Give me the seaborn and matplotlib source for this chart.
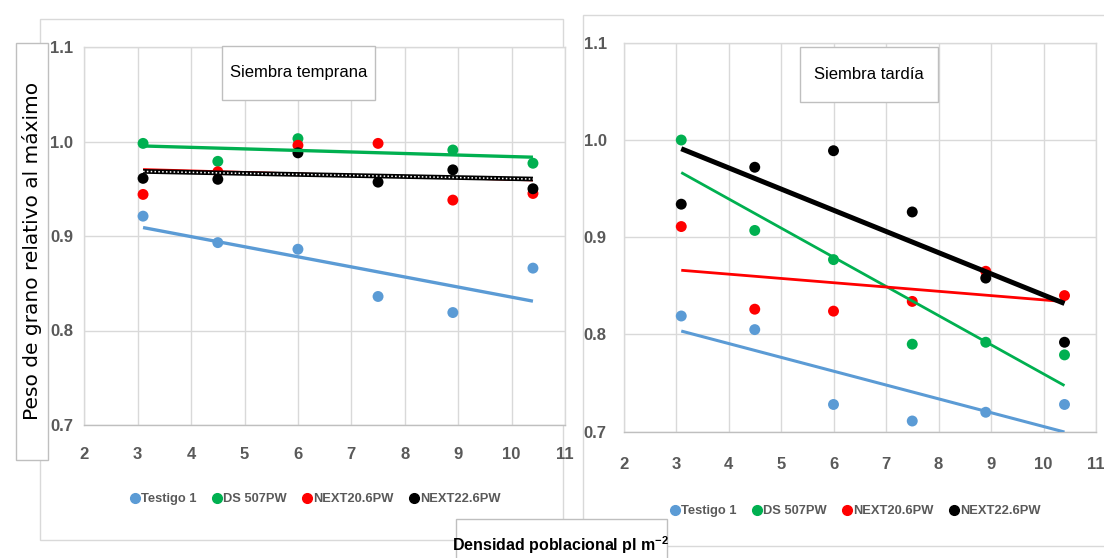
import numpy as np
import pandas as pd
import matplotlib
matplotlib.use('Agg')
import matplotlib.pyplot as plt
import seaborn as sns
from matplotlib import font_manager
from matplotlib.patches import Rectangle
from matplotlib.lines import Line2D

# Datos
densidad = [3.1, 4.5, 6.0, 7.5, 8.9, 10.4]
hibridos = ['Testigo 1', 'DS 507PW', 'NEXT20.6PW', 'NEXT22.6PW']
colores = ['#5B9BD5', '#00B050', '#FF0000', '#000000']

# Siembra temprana
temp_testigo = [0.921, 0.893, 0.886, 0.836, 0.819, 0.866]
temp_ds507 = [0.998, 0.979, 1.003, np.nan, 0.991, 0.977]
temp_next20 = [0.944, 0.968, 0.996, 0.998, 0.938, 0.945]
temp_next22 = [0.961, 0.960, 0.988, 0.957, 0.970, 0.950]

# Siembra tardia
tard_testigo = [0.819, 0.805, 0.728, 0.711, 0.720, 0.728]
tard_ds507 = [1.000, 0.907, 0.877, 0.790, 0.792, 0.779]
tard_next20 = [0.911, 0.826, 0.824, 0.834, 0.865, 0.840]
tard_next22 = [0.934, 0.972, 0.989, 0.926, 0.858, 0.792]

y_ticks = [0.7, 0.8, 0.9, 1.0, 1.1]
y_labels = ['0.7', '0.8', '0.9', '1.0', '1.1']
x_ticks = list(range(2, 12))

sns.set_style('white')
nombres = {f.name for f in font_manager.fontManager.ttflist}
angosta = 'Liberation Sans Narrow' if 'Liberation Sans Narrow' in nombres else 'Liberation Sans'
plt.rcParams['font.family'] = [angosta, 'DejaVu Sans']
plt.rcParams['mathtext.fontset'] = 'custom'
plt.rcParams['mathtext.rm'] = angosta + ':bold'
plt.rcParams['mathtext.bf'] = angosta + ':bold'

GRIS = '#595959'
W, H = 1104, 558


def a_largo(series):
    filas = []
    for h, vals in zip(hibridos, series):
        for x, y in zip(densidad, vals):
            filas.append({'densidad': x, 'peso': y, 'hibrido': h})
    return pd.DataFrame(filas)


def caja(fig, x0, y0, x1, y1, ec, z):
    r = Rectangle((x0 / W, 1 - y1 / H), (x1 - x0) / W, (y1 - y0) / H,
                  transform=fig.transFigure, fc='white', ec=ec, lw=1, zorder=z)
    fig.patches.append(r)


def dibujar(ax, datos, grosor, pad_x, pad_y, pos_leyenda, punteado=False):
    sns.scatterplot(data=datos, x='densidad', y='peso', hue='hibrido', hue_order=hibridos,
                    palette=colores, s=62, linewidth=0, legend=False, ax=ax, zorder=3)
    for h, c in zip(hibridos, colores):
        sub = datos[datos['hibrido'] == h]
        sns.regplot(data=sub, x='densidad', y='peso', scatter=False, ci=None, color=c,
                    line_kws={'lw': grosor[h], 'zorder': 4, 'solid_capstyle': 'butt'}, ax=ax)
    if punteado:
        # linea negra con puntos blancos (como en el original)
        xs, ys = ax.lines[-1].get_data()
        ax.plot(xs, ys, color='white', ls=(0, (1, 1.5)), lw=1.1, zorder=5)

    ax.set_xlim(2, 11)
    ax.set_ylim(0.7, 1.1)
    ax.set_xticks(x_ticks)
    ax.set_yticks(y_ticks)
    ax.set_yticklabels(y_labels)
    ax.set_xlabel('')
    ax.set_ylabel('')
    ax.grid(True, color='#d9d9d9', lw=1)
    ax.set_axisbelow(True)
    for s in ax.spines.values():
        s.set_color('#d9d9d9')
        s.set_linewidth(1)
    ax.spines['bottom'].set_color('#bfbfbf')
    ax.tick_params(axis='x', length=0, pad=pad_x, labelsize=12, labelcolor=GRIS)
    ax.tick_params(axis='y', length=0, pad=pad_y, labelsize=12, labelcolor=GRIS)
    for lbl in ax.get_xticklabels() + ax.get_yticklabels():
        lbl.set_fontweight('bold')

    handles = [Line2D([], [], marker='o', ls='', color=c, markersize=7) for c in colores]
    ax.legend(handles, hibridos, loc='center', bbox_to_anchor=pos_leyenda, ncol=4,
              frameon=False, handletextpad=0.05, columnspacing=1.2, handlelength=0.8,
              prop={'weight': 'bold', 'size': 9.3}, labelcolor=GRIS)


fig = plt.figure(figsize=(W / 100, H / 100), dpi=100)

# cajas exteriores de cada grafico
caja(fig, 40, 19, 563, 540, '#d9d9d9', -2)
caja(fig, 583, 15, 1112, 546, '#d9d9d9', -2)

ax1 = fig.add_axes([84.3 / W, 1 - 425 / H, (565 - 84.3) / W, (425 - 47) / H])
ax2 = fig.add_axes([623.5 / W, 1 - 431.7 / H, (1096 - 623.5) / W, (431.7 - 42.8) / H])

dibujar(ax1, a_largo([temp_testigo, temp_ds507, temp_next20, temp_next22]),
        {'Testigo 1': 2.4, 'DS 507PW': 2.4, 'NEXT20.6PW': 1.6, 'NEXT22.6PW': 3.4},
        16, 8, (0.48, -0.197), punteado=True)
dibujar(ax2, a_largo([tard_testigo, tard_ds507, tard_next20, tard_next22]),
        {'Testigo 1': 2.2, 'DS 507PW': 2.0, 'NEXT20.6PW': 2.0, 'NEXT22.6PW': 3.6},
        18, 12, (0.49, -0.204))

# titulos de cada panel en su caja
caja(fig, 222, 46, 375, 100, '#bfbfbf', 5)
fig.text(298.5 / W, 1 - 73 / H, 'Siembra temprana', ha='center', va='center',
         fontsize=12, color='black', zorder=6)
caja(fig, 800, 47, 938, 102, '#bfbfbf', 5)
fig.text(869 / W, 1 - 74.5 / H, 'Siembra tardía', ha='center', va='center',
         fontsize=12, color='black', zorder=6)

# caja del titulo del eje y
caja(fig, 16, 43, 48, 460, '#bfbfbf', 5)
fig.text(32 / W, 1 - 251 / H, 'Peso de grano relativo al máximo', rotation=90,
         ha='center', va='center', fontsize=14.5, family='DejaVu Sans', color='black', zorder=6)

# caja del titulo del eje x
caja(fig, 456, 519, 667, 562, '#bfbfbf', 5)
fig.text(561 / W, 1 - 545 / H, r'Densidad poblacional pl m$^{\mathbf{-2}}$', ha='center',
         va='center', fontsize=11.5, fontweight='bold', color='black', zorder=6)

fig.savefig('out.png', dpi=100)
